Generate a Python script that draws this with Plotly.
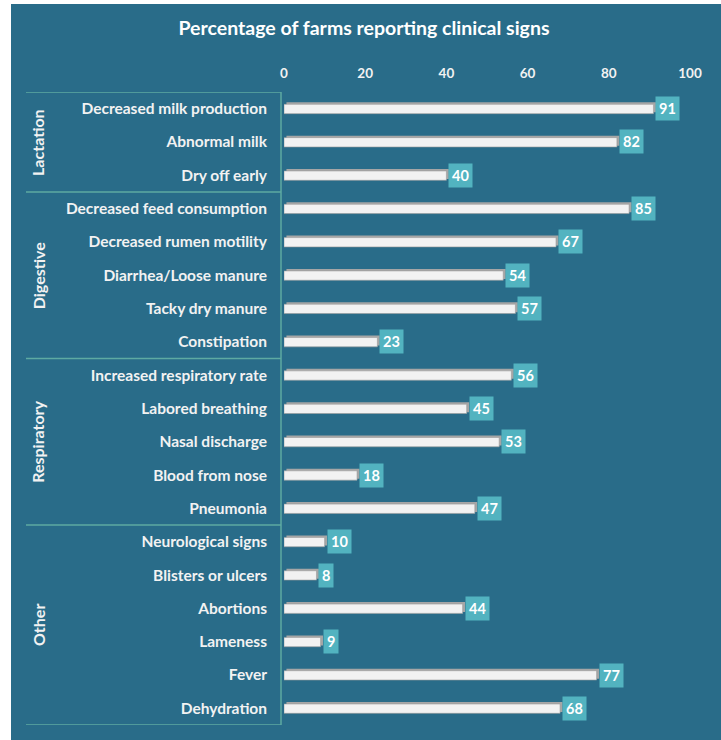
import plotly.graph_objects as go

# Clinical signs grouped by body system, in display order (top to bottom)
groups = ["Lactation", "Digestive", "Respiratory", "Other"]
group_sizes = [3, 5, 5, 6]
signs = [
    "Decreased milk production", "Abnormal milk", "Dry off early",
    "Decreased feed consumption", "Decreased rumen motility", "Diarrhea/Loose manure",
    "Tacky dry manure", "Constipation",
    "Increased respiratory rate", "Labored breathing", "Nasal discharge",
    "Blood from nose", "Pneumonia",
    "Neurological signs", "Blisters or ulcers", "Abortions", "Lameness",
    "Fever", "Dehydration",
]
percent = [91, 82, 40, 85, 67, 54, 57, 23, 56, 45, 53, 18, 47, 10, 8, 44, 9, 77, 68]
x_ticks = [0, 20, 40, 60, 80, 100]

BG = "#296c89"
LINE = "#5eaaa2"
BOX = "#52b3c0"
TXT = "#f2f2f2"
FONT = "Lato"

W, H = 721, 740
L, R, T, B = 284, 31, 92, 15
pw, ph = W - L - R, H - T - B


def px_x(p):
    return (p - L) / pw


def px_y(p):
    return (H - B - p) / ph


pos = list(range(len(signs)))

fig = go.Figure()
# shaded edge giving the bars a raised look
fig.add_trace(go.Bar(
    y=pos, x=percent, base=0.6, orientation="h", width=0.30, offset=-0.19,
    marker=dict(color="#a6a6a6", line=dict(width=0)), hoverinfo="skip",
))
# bar faces
fig.add_trace(go.Bar(
    y=pos, x=percent, orientation="h", width=0.28, offset=-0.13,
    marker=dict(color="#f2f2f2", line=dict(color="#9a9a9a", width=0.6)),
    hovertemplate="%{text}: %{x}%<extra></extra>", text=signs, textposition="none",
))

shapes = [
    # chart panel
    dict(type="rect", xref="paper", yref="paper", x0=px_x(11), x1=px_x(W + 2),
         y0=px_y(H + 2), y1=px_y(4), fillcolor=BG, line=dict(width=0), layer="below"),
    # divider between labels and bars
    dict(type="line", xref="paper", yref="y", x0=px_x(281), x1=px_x(281),
         y0=-0.5, y1=len(signs) - 0.5, line=dict(color=LINE, width=1.5)),
]

annotations = []
start = 0
bounds = [-0.5]
for g, n in zip(groups, group_sizes):
    bounds.append(start + n - 0.5)
    annotations.append(dict(
        text=g, xref="paper", yref="y", x=px_x(38), y=start + (n - 1) / 2,
        textangle=-90, showarrow=False, xanchor="center", yanchor="middle",
        font=dict(family=FONT, size=16, color=TXT, weight="bold"),
    ))
    start += n
for b in bounds:
    shapes.append(dict(type="line", xref="paper", yref="y", x0=px_x(26), x1=px_x(281),
                       y0=b, y1=b, line=dict(color=LINE, width=1.5)))

# value boxes
for i, v in enumerate(percent):
    annotations.append(dict(
        text=str(v), x=v, y=i, xref="x", yref="y", showarrow=False,
        xanchor="left", yanchor="middle", xshift=2,
        bgcolor=BOX, borderpad=3,
        font=dict(family=FONT, size=14.5, color="white", weight="bold"),
    ))

fig.update_layout(
    width=W, height=H,
    margin=dict(l=L, r=R, t=T, b=B),
    paper_bgcolor="white", plot_bgcolor="rgba(0,0,0,0)",
    showlegend=False, barmode="overlay",
    title=dict(text="Percentage of farms reporting clinical signs",
               x=px_x(364), xref="paper", xanchor="center",
               y=1 - 28 / H, yanchor="middle",
               font=dict(family=FONT, size=19.5, color="white", weight="bold")),
    xaxis=dict(range=[0, 100], side="top", tickvals=x_ticks, showgrid=False,
               zeroline=False, showline=False, ticks="", ticklabelstandoff=10,
               tickfont=dict(family=FONT, size=13.5, color=TXT, weight="bold")),
    yaxis=dict(range=[len(signs) - 0.5, -0.5], tickvals=pos, ticktext=signs,
               showgrid=False, zeroline=False, showline=False, ticks="",
               ticklabelstandoff=16,
               tickfont=dict(family=FONT, size=15.5, color=TXT, weight="bold")),
    shapes=shapes, annotations=annotations,
)

fig.write_html("out.html")
